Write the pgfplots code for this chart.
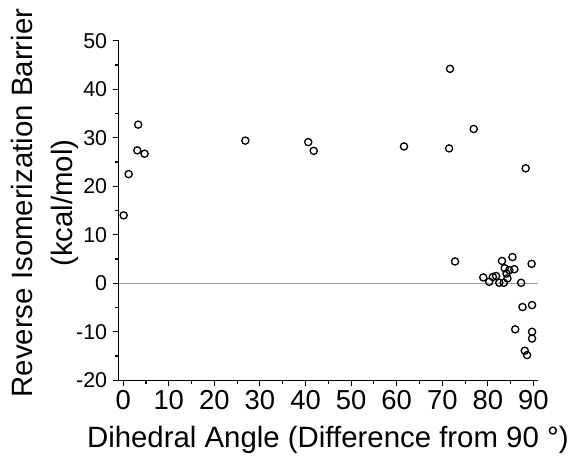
\documentclass[border=0pt]{standalone}
\usepackage{pgfplots}
\pgfplotsset{compat=1.18}
\usepackage{fontspec}
\setmainfont{Liberation Sans}
\pgfplotstableread{
x y
0.1 14.0
1.2 22.5
3.1 27.4
3.3 32.7
4.7 26.7
26.8 29.4
40.6 29.1
41.8 27.3
61.6 28.2
71.7 44.2
71.5 27.8
76.9 31.8
88.3 23.7
72.8 4.5
83.1 4.6
85.4 5.4
89.6 4.0
79.0 1.2
80.3 0.3
81.1 1.3
81.8 1.5
82.5 0.1
83.5 0.1
84.3 1.0
84.1 2.0
83.7 3.1
84.7 2.7
85.8 2.9
87.3 0.1
87.6 -4.9
89.7 -4.5
86.0 -9.5
89.7 -10.0
89.7 -11.4
88.1 -13.9
88.6 -14.8
}\datatable
\begin{document}
\begin{tikzpicture}
\begin{axis}[name=ax, scale only axis, width=419.4bp, height=339.6bp,
 xmin=-1, xmax=91, ymin=-20, ymax=50,
 axis x line*=bottom, axis y line*=left,
 axis line style={-, line width=1.1bp, black},
 xtick={0,10,...,90}, ytick={-20,-10,...,50},
 minor x tick num=1, minor y tick num=1,
 tick align=outside, major tick length=6bp, minor tick length=3.5bp,
 every tick/.style={black, line width=1.1bp},
 /pgf/number format/assume math mode=true,
 xticklabel style={font=\fontsize{27.5}{30}\selectfont, yshift=-1bp},
 yticklabel style={font=\fontsize{21.5}{24}\selectfont, xshift=-2bp},
 xlabel={Dihedral Angle (Difference from 90 °)},
 xlabel style={font=\fontsize{29.5}{32}\selectfont, at={(axis description cs:0.499,0)}, anchor=base, yshift=-67.7bp},
 ylabel={Reverse Isomerization Barrier\\(kcal/mol)},
 ylabel style={font=\fontsize{29.5}{40}\selectfont, align=center, at={(axis description cs:-0.1755,0.522)}, anchor=center},
 clip=false]
\addplot[color={rgb,255:red,160;green,160;blue,160}, line width=1.1bp, forget plot] coordinates {(-1,0) (91,0)};
\addplot[only marks, mark=o, mark size=3.6bp, mark options={line width=1.3bp, black}] table[x=x,y=y] {\datatable};
\end{axis}
\pgfresetboundingbox
\path[use as bounding box] ([shift={(-118.6bp,-77.7bp)}]ax.south west) rectangle ([shift={(36bp,40.7bp)}]ax.north east);
\end{tikzpicture}
\end{document}
